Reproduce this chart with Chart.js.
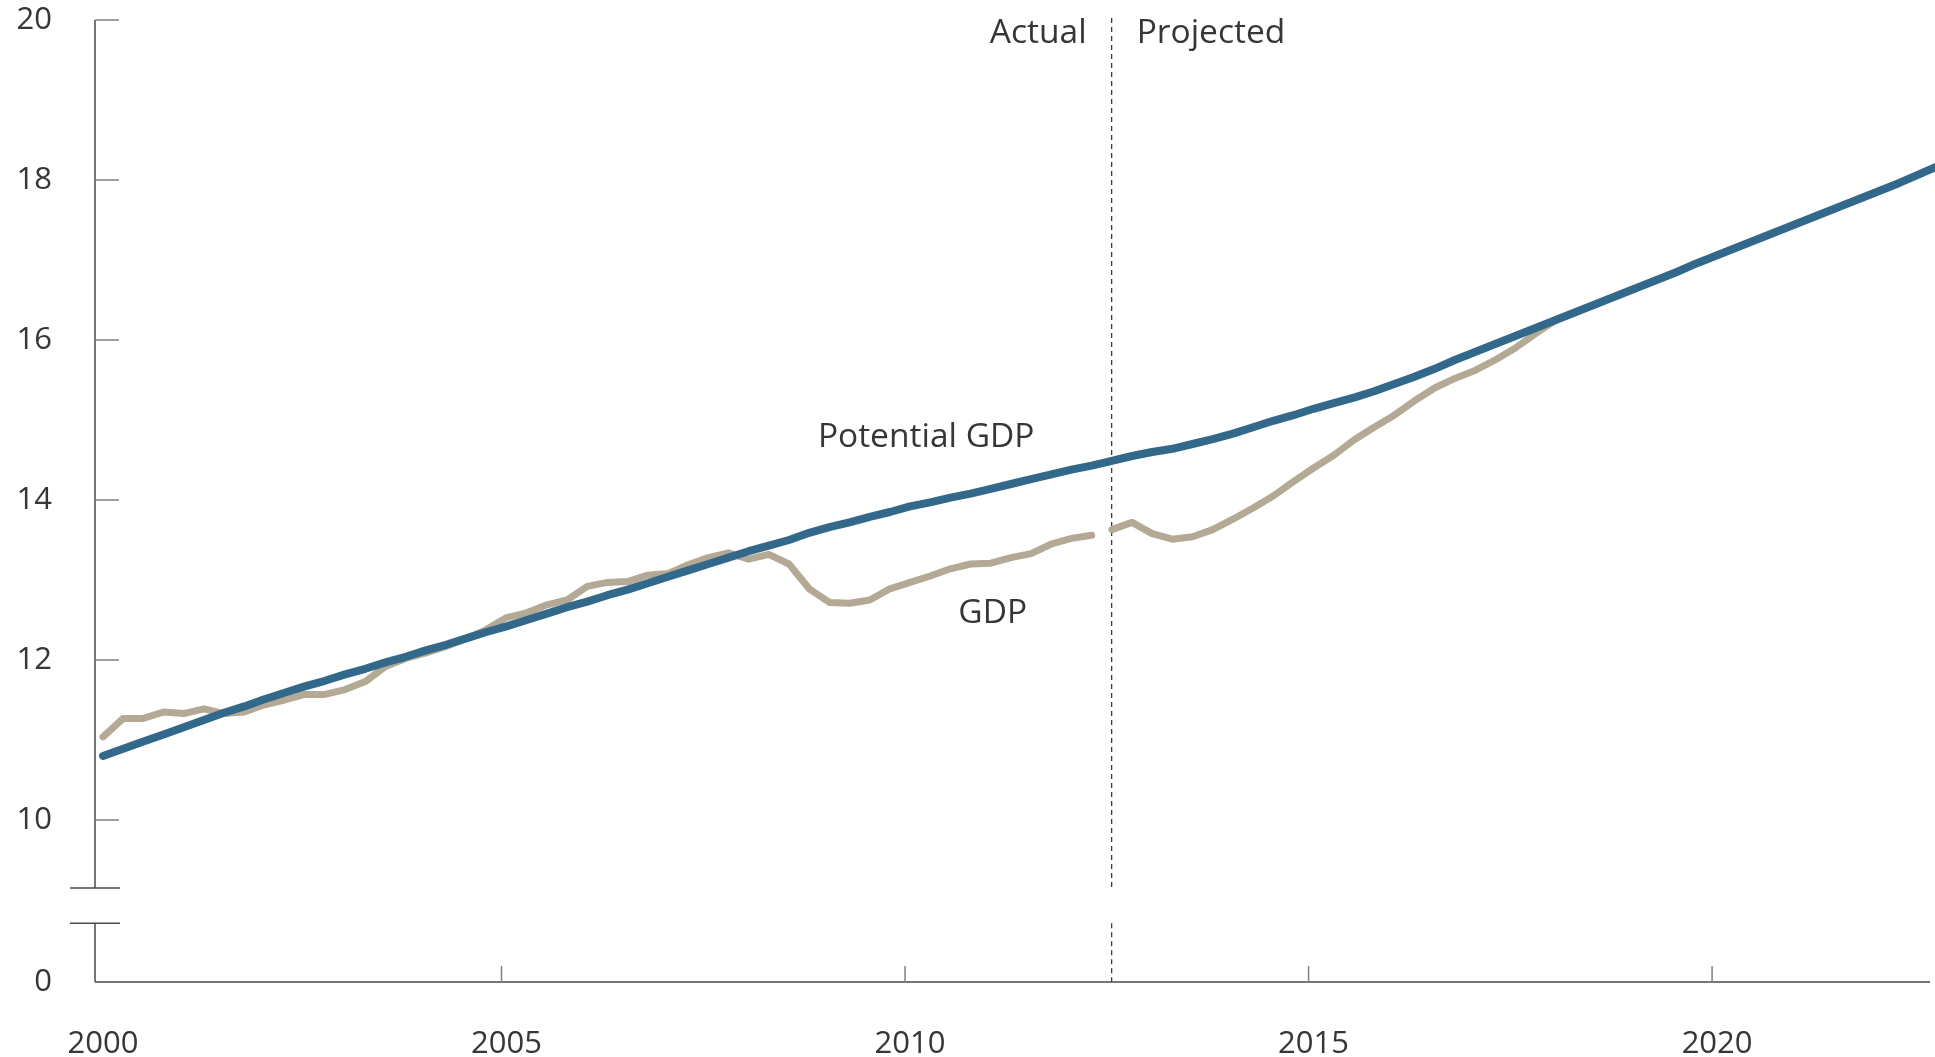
<!DOCTYPE html>
<html>
<head>
<meta charset="utf-8">
<title>GDP and Potential GDP</title>
<script src="https://cdn.jsdelivr.net/npm/chart.js@4.4.0/dist/chart.umd.min.js"></script>
<style>
    html, body { margin: 0; padding: 0; background: #fff; }
    #wrap { width: 1935px; height: 1057px; }
</style>
</head>
<body>
<div id="wrap"><canvas id="gdpChart"></canvas></div>
<script>
// Quarterly series, trillions of dollars, first point is 2000 Q1
const FIRST_YEAR = 2000;

const POTENTIAL_GDP = [
    10.80, 10.89, 10.98, 11.07,  11.16, 11.25, 11.34, 11.42,
    11.51, 11.59, 11.67, 11.74,  11.82, 11.89, 11.97, 12.04,
    12.12, 12.19, 12.27, 12.35,  12.42, 12.50, 12.58, 12.66,
    12.73, 12.81, 12.88, 12.96,  13.04, 13.12, 13.20, 13.28,
    13.36, 13.43, 13.50, 13.59,  13.66, 13.72, 13.79, 13.85,
    13.92, 13.97, 14.03, 14.08,  14.14, 14.20, 14.26, 14.32,
    14.38, 14.43, 14.49, 14.55,  14.60, 14.64, 14.70, 14.76,
    14.83, 14.91, 14.99, 15.06,  15.14, 15.21, 15.28, 15.36,
    15.45, 15.54, 15.64, 15.75,  15.85, 15.95, 16.05, 16.15,
    16.25, 16.35, 16.45, 16.55,  16.65, 16.75, 16.85, 16.96,
    17.06, 17.16, 17.26, 17.36,  17.46, 17.56, 17.66, 17.76,
    17.86, 17.96, 18.07, 18.18
];

// 2000 Q1 - 2012 Q2
const GDP_ACTUAL = [
    11.04, 11.27, 11.27, 11.35,  11.33, 11.39, 11.33, 11.35,
    11.44, 11.50, 11.57, 11.57,  11.63, 11.73, 11.92, 12.02,
    12.09, 12.17, 12.27, 12.38,  12.53, 12.59, 12.69, 12.75,
    12.92, 12.97, 12.98, 13.06,  13.08, 13.19, 13.28, 13.34,
    13.26, 13.32, 13.20, 12.89,  12.72, 12.71, 12.75, 12.89,
    12.97, 13.05, 13.14, 13.20,  13.21, 13.28, 13.33, 13.45,
    13.52, 13.56
];

// 2012 Q3 - 2022 Q4
const GDP_PROJECTED = [
    13.63, 13.72,
    13.58, 13.51, 13.54, 13.63,  13.76, 13.90, 14.05, 14.23,
    14.40, 14.56, 14.75, 14.91,  15.06, 15.24, 15.40, 15.52,
    15.62, 15.75, 15.90, 16.08,  16.25, 16.35, 16.45, 16.55,
    16.65, 16.75, 16.85, 16.96,  17.06, 17.16, 17.26, 17.36,
    17.46, 17.56, 17.66, 17.76,  17.86, 17.96, 18.07, 18.18
];

const YEAR_TICKS = [2000, 2005, 2010, 2015, 2020];
const VALUE_TICKS = [0, 10, 12, 14, 16, 18, 20];

// axis range; the value axis is broken below 10, its foot stands for 0
const X_MIN = 1999.963;
const X_MAX = 2022.7;
const Y_MAX = 20;
const Y_FOOT = 7.975;
const BREAK_TOP = 9.15;
const BREAK_BOTTOM = 8.71;
const SPLIT_YEAR = 2012.56;

const FONT = '"Open Sans", "Noto Sans", sans-serif';
const TEXT_COLOR = '#363636';
const BLUE = '#32688a';
const BEIGE = '#b3a995';

// each quarter is plotted a little after its start
function quarterPoints(values, startIndex) {
    return values.map((v, i) => ({ x: FIRST_YEAR + (startIndex + i + 0.25) / 4, y: v }));
}

// Axis lines, break marks, divider and labels
const decorPlugin = {
    id: 'decor',
    beforeDatasetsDraw(chart) {
        const ctx = chart.ctx;
        const xs = chart.scales.x;
        const ys = chart.scales.y;
        const area = chart.chartArea;
        const left = area.left;
        const bottom = area.bottom;
        const yBreakTop = ys.getPixelForValue(BREAK_TOP);
        const yBreakBottom = ys.getPixelForValue(BREAK_BOTTOM);

        ctx.save();
        ctx.lineCap = 'butt';

        // value axis, in two pieces
        ctx.strokeStyle = '#4a4a4a';
        ctx.lineWidth = 1.5;
        ctx.beginPath();
        ctx.moveTo(left, area.top);
        ctx.lineTo(left, yBreakTop);
        ctx.moveTo(left, yBreakBottom);
        ctx.lineTo(left, bottom);
        // break marks
        ctx.moveTo(left - 25, yBreakTop);
        ctx.lineTo(left + 25, yBreakTop);
        ctx.moveTo(left - 25, yBreakBottom);
        ctx.lineTo(left + 25, yBreakBottom);
        // year axis
        ctx.moveTo(left, bottom);
        ctx.lineTo(area.right, bottom);
        ctx.stroke();

        // tick marks
        ctx.strokeStyle = '#808080';
        ctx.lineWidth = 1.5;
        ctx.beginPath();
        VALUE_TICKS.filter(v => v > 0).forEach(v => {
            const y = ys.getPixelForValue(v);
            ctx.moveTo(left, y);
            ctx.lineTo(left + 24, y);
        });
        YEAR_TICKS.forEach(yr => {
            const x = xs.getPixelForValue(yr);
            if (x > left + 5) {
                ctx.moveTo(x, bottom);
                ctx.lineTo(x, bottom - 16);
            }
        });
        ctx.stroke();

        // actual / projected divider
        const xSplit = xs.getPixelForValue(SPLIT_YEAR);
        ctx.strokeStyle = '#3a3a3a';
        ctx.lineWidth = 1.3;
        ctx.setLineDash([5, 4]);
        ctx.beginPath();
        ctx.moveTo(xSplit, area.top - 2);
        ctx.lineTo(xSplit, yBreakTop);
        ctx.moveTo(xSplit, yBreakBottom);
        ctx.lineTo(xSplit, bottom);
        ctx.stroke();
        ctx.restore();
    },
    afterDraw(chart) {
        const ctx = chart.ctx;
        const xs = chart.scales.x;
        const ys = chart.scales.y;
        const xSplit = xs.getPixelForValue(SPLIT_YEAR);

        ctx.save();
        ctx.fillStyle = TEXT_COLOR;
        ctx.font = '33.5px ' + FONT;
        ctx.textBaseline = 'alphabetic';

        ctx.textAlign = 'right';
        ctx.fillText('Actual', xSplit - 25, ys.getPixelForValue(19.71));
        ctx.textAlign = 'left';
        ctx.fillText('Projected', xSplit + 25, ys.getPixelForValue(19.71));
        ctx.fillText('Potential GDP', xs.getPixelForValue(2008.92), ys.getPixelForValue(14.66));
        ctx.fillText('GDP', xs.getPixelForValue(2010.66), ys.getPixelForValue(12.46));
        ctx.restore();
    }
};

function initChart() {
    const ctx = document.getElementById('gdpChart').getContext('2d');

    const lineStyle = {
        pointRadius: 0,
        tension: 0,
        borderCapStyle: 'round',
        borderJoinStyle: 'round',
        clip: false
    };

    // lower order is drawn on top
    const data = {
        datasets: [
            Object.assign({
                label: 'Potential GDP',
                data: quarterPoints(POTENTIAL_GDP, 0),
                borderColor: BLUE,
                borderWidth: 8,
                order: 0
            }, lineStyle),
            Object.assign({
                label: 'GDP',
                data: quarterPoints(GDP_ACTUAL, 0),
                borderColor: BEIGE,
                borderWidth: 7,
                order: 1
            }, lineStyle),
            Object.assign({
                label: 'GDP (projected)',
                data: quarterPoints(GDP_PROJECTED, GDP_ACTUAL.length),
                borderColor: BEIGE,
                borderWidth: 7,
                order: 1
            }, lineStyle)
        ]
    };

    const tickFont = { family: FONT, size: 31 };

    new Chart(ctx, {
        type: 'line',
        data: data,
        options: {
            responsive: true,
            maintainAspectRatio: false,
            animation: false,
            layout: {
                padding: { top: 20, right: 5, left: 0, bottom: 0 }
            },
            plugins: {
                legend: { display: false },
                tooltip: { enabled: false }
            },
            scales: {
                x: {
                    type: 'linear',
                    min: X_MIN,
                    max: X_MAX,
                    grid: { display: false, drawTicks: false },
                    border: { display: false },
                    afterBuildTicks: scale => {
                        scale.ticks = YEAR_TICKS.map(v => ({ value: v }));
                    },
                    afterFit: scale => {
                        scale.height = 75;
                        scale.paddingLeft = 0;
                        scale.paddingRight = 0;
                    },
                    ticks: {
                        font: tickFont,
                        color: TEXT_COLOR,
                        padding: 44,
                        labelOffset: 5,
                        maxRotation: 0,
                        autoSkip: false,
                        callback: value => String(value)
                    }
                },
                y: {
                    type: 'linear',
                    min: Y_FOOT,
                    max: Y_MAX,
                    grid: { display: false, drawTicks: false },
                    border: { display: false },
                    afterBuildTicks: scale => {
                        scale.ticks = VALUE_TICKS.map(v => ({ value: v === 0 ? Y_FOOT : v }));
                    },
                    afterFit: scale => {
                        scale.width = 95;
                        scale.paddingTop = 0;
                        scale.paddingBottom = 0;
                    },
                    ticks: {
                        font: tickFont,
                        color: TEXT_COLOR,
                        padding: 43,
                        autoSkip: false,
                        callback: value => (value === Y_FOOT ? '0' : String(value))
                    }
                }
            }
        },
        plugins: [decorPlugin]
    });
}

document.addEventListener('DOMContentLoaded', initChart);
</script>
</body>
</html>
